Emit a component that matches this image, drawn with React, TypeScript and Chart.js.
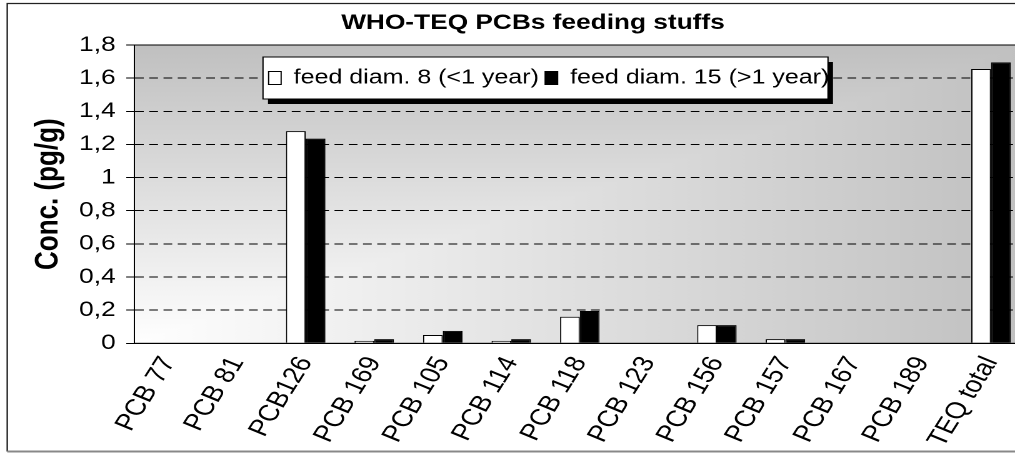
import React, { useEffect, useRef } from 'react';
import { Chart, registerables, layouts } from 'chart.js';

Chart.register(...registerables);

const categories = ['PCB 77', 'PCB 81', 'PCB126', 'PCB 169', 'PCB 105', 'PCB 114', 'PCB 118', 'PCB 123', 'PCB 156', 'PCB 157', 'PCB 167', 'PCB 189', 'TEQ total'];
const feedDiam8 = [0, 0, 1.28, 0.015, 0.05, 0.015, 0.16, 0, 0.11, 0.025, 0, 0, 1.655];
const feedDiam15 = [0, 0, 1.235, 0.025, 0.075, 0.025, 0.195, 0, 0.11, 0.025, 0, 0, 1.695];
const seriesLabels = ['feed diam. 8 (<1 year)', 'feed diam. 15 (>1 year)'];
const chartTitle = 'WHO-TEQ PCBs feeding stuffs';
const yAxisTitle = 'Conc. (pg/g)';
const yMin = 0;
const yMax = 1.8;
const yStep = 0.2;

const SX = 1.25;
const CW = 852;
const CH = 455;
const FONT = "'Liberation Sans', Arial, Helvetica, sans-serif";

const AREA_LEFT = 107.5;
const AREA_RIGHT = 820.2;
const AREA_BOTTOM = 343.3;
const PAD_LEFT = 32.6;
const TITLE_CX = 426.4;

const plotBg = {
  id: 'plotBg',
  beforeDraw(chart: any) {
    const { ctx, chartArea: a } = chart;
    ctx.save();
    ctx.lineWidth = 1.2;
    ctx.strokeStyle = '#222';
    ctx.beginPath();
    ctx.moveTo(847, 3.5);
    ctx.lineTo(5.8, 3.5);
    ctx.lineTo(5.8, 451.5);
    ctx.stroke();
    ctx.strokeStyle = '#888';
    ctx.lineWidth = 2;
    ctx.beginPath();
    ctx.moveTo(5.8, 451.5);
    ctx.lineTo(847, 451.5);
    ctx.lineTo(847, 3.5);
    ctx.stroke();
    const gh = ctx.createLinearGradient(a.left, 0, a.right, 0);
    gh.addColorStop(0, '#ffffff');
    gh.addColorStop(1, '#c0c0c0');
    ctx.fillStyle = gh;
    ctx.fillRect(a.left, a.top, a.right - a.left, a.bottom - a.top);
    const gv = ctx.createLinearGradient(0, a.bottom, 0, a.top);
    gv.addColorStop(0, '#ffffff');
    gv.addColorStop(1, '#c0c0c0');
    ctx.beginPath();
    ctx.moveTo(a.left, a.bottom);
    ctx.lineTo(a.left, a.top);
    ctx.lineTo(a.right, a.top);
    ctx.closePath();
    ctx.fillStyle = gv;
    ctx.fill();
    ctx.restore();
  },
  afterDatasetsDraw(chart: any) {
    const { ctx, chartArea: a } = chart;
    ctx.save();
    ctx.strokeStyle = '#000';
    ctx.lineWidth = 1;
    ctx.setLineDash([]);
    ctx.strokeRect(a.left, a.top, a.right - a.left, a.bottom - a.top);
    ctx.restore();
  },
};

const BOX_L = 210.4;
const BOX_R = 662.4;
const BOX_T = 57;
const BOX_B = 99;

const floatLegend = {
  id: 'floatLegend',
  afterInit(chart: any) {
    if (chart.legend) layouts.removeBox(chart, chart.legend);
  },
  afterLayout(chart: any) {
    const tb = chart.titleBlock;
    if (tb) {
      const half = 400;
      tb.left = TITLE_CX - half;
      tb.right = TITLE_CX + half;
      tb.width = 2 * half;
    }
    const lg = chart.legend;
    if (!lg) return;
    lg.update(chart.width, chart.height, { left: 0, top: 0, right: 0, bottom: 0 });
    const p = lg.options.labels.padding;
    const lw = lg.lineWidths && lg.lineWidths[0] ? lg.lineWidths[0] : 460;
    const x0 = BOX_L + 4.5;
    lg.left = x0 - 10;
    lg.right = x0 + lw - p + 10;
    lg.top = 78 - p - 10;
    lg.bottom = lg.top + 40;
    lg.width = lg.right - lg.left;
    lg.height = 40;
  },
  afterDatasetsDraw(chart: any) {
    const lg = chart.legend;
    if (!lg) return;
    const ctx = chart.ctx;
    ctx.save();
    ctx.fillStyle = '#000';
    ctx.fillRect(BOX_L + 4, BOX_T + 5, BOX_R - BOX_L, BOX_B - BOX_T);
    ctx.fillStyle = '#fff';
    ctx.fillRect(BOX_L, BOX_T, BOX_R - BOX_L, BOX_B - BOX_T);
    ctx.strokeStyle = '#000';
    ctx.lineWidth = 1;
    ctx.setLineDash([]);
    ctx.strokeRect(BOX_L, BOX_T, BOX_R - BOX_L, BOX_B - BOX_T);
    ctx.restore();
    lg.draw();
  },
};

export default function App() {
  const ref = useRef<HTMLCanvasElement>(null);

  useEffect(() => {
    const chart = new Chart(ref.current as HTMLCanvasElement, {
      type: 'bar',
      data: {
        labels: categories,
        datasets: [
          {
            label: seriesLabels[0],
            data: feedDiam8,
            backgroundColor: '#ffffff',
            borderColor: '#000000',
            borderWidth: 1,
          },
          {
            label: seriesLabels[1],
            data: feedDiam15,
            backgroundColor: '#000000',
            borderColor: '#000000',
            borderWidth: 1,
          },
        ],
      },
      options: {
        animation: false,
        responsive: false,
        devicePixelRatio: 2,
        layout: { padding: { left: PAD_LEFT, right: CW - AREA_RIGHT, top: 0, bottom: 0 } },
        datasets: { bar: { categoryPercentage: 0.576, barPercentage: 1 } },
        plugins: {
          title: {
            display: true,
            text: chartTitle,
            color: '#000',
            font: { family: FONT, size: 21, weight: 'bold' },
            padding: { top: 10.4, bottom: 9.4 },
          },
          legend: {
            display: true,
            position: 'top',
            labels: {
              color: '#000',
              font: { family: FONT, size: 20 },
              boxWidth: 10,
              boxHeight: 13,
              padding: 5,
            },
          },
          tooltip: { enabled: false },
        },
        scales: {
          x: {
            grid: { display: false, drawTicks: false },
            border: { display: true, color: '#000', width: 1 },
            ticks: {
              color: '#000',
              font: { family: FONT, size: 23 },
              minRotation: 63,
              maxRotation: 63,
              padding: 9,
              autoSkip: false,
            },
            afterFit(scale: any) {
              scale.height = CH - AREA_BOTTOM;
            },
          },
          y: {
            min: yMin,
            max: yMax,
            grid: {
              color: '#000',
              lineWidth: 1,
              drawTicks: true,
              tickLength: 6.5,
              tickColor: '#000',
              tickWidth: 1,
              tickBorderDash: [],
            },
            border: { display: true, color: '#000', width: 1, dash: [7, 4.4] },
            ticks: {
              stepSize: yStep,
              color: '#000',
              font: { family: FONT, size: 21 },
              padding: 8.5,
              callback: (v: any) => String(Math.round(Number(v) * 10) / 10).replace('.', ','),
            },
            title: {
              display: true,
              text: yAxisTitle,
              color: '#000',
              font: { family: FONT, size: 26, weight: 'bold' },
              padding: { top: -9.5, bottom: 0 },
            },
            afterFit(scale: any) {
              scale.width = AREA_LEFT - PAD_LEFT;
            },
          },
        },
      },
      plugins: [plotBg, floatLegend],
    } as any);
    return () => chart.destroy();
  }, []);

  return (
    <div style={{ position: 'fixed', left: 0, top: 0, width: 1015, height: 455, overflow: 'hidden', background: '#fff' }}>
      <div style={{ position: 'absolute', left: 0, top: 0, width: CW, height: CH, transform: `scaleX(${SX})`, transformOrigin: '0 0' }}>
        <canvas ref={ref} width={CW} height={CH} style={{ width: CW, height: CH, display: 'block' }} />
      </div>
    </div>
  );
}
